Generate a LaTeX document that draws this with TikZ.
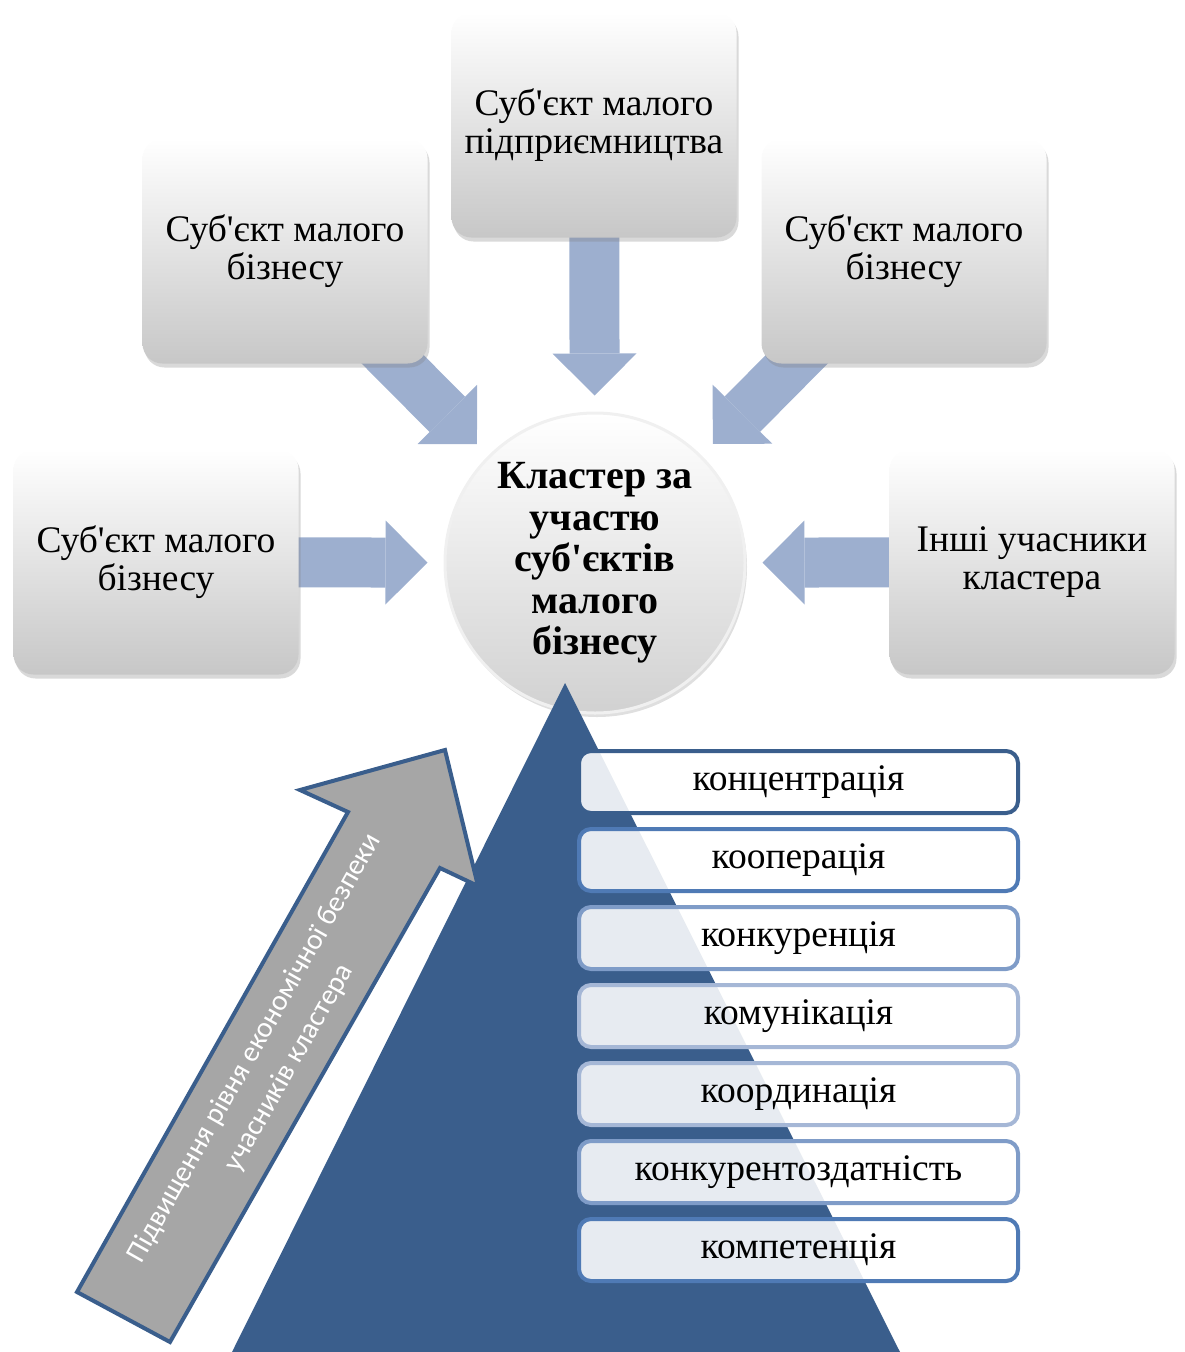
\documentclass[tikz,border=0pt]{standalone}
\usepackage{fontspec}
\setmainfont{Liberation Serif}
\newfontfamily\calibrifont{Carlito}
\usetikzlibrary{arrows.meta,shadows,backgrounds,positioning}

\definecolor{pyramidblue}{RGB}{58,94,140}
\definecolor{feedblue}{RGB}{157,175,207}
\definecolor{arrowgray}{RGB}{166,166,166}
\definecolor{rimA}{RGB}{58,94,140}
\definecolor{rimB}{RGB}{79,122,181}
\definecolor{rimC}{RGB}{127,156,200}
\definecolor{rimD}{RGB}{165,183,214}

\newcommand{\apos}{\textquotesingle{}}

\tikzset{
  member/.style={rectangle, rounded corners=20pt, minimum width=285pt, minimum height=225pt,
    top color=white, bottom color=black!22, align=center,
    drop shadow={opacity=0.3, shadow xshift=2pt, shadow yshift=-4pt},
    font=\fontsize{37.5}{38}\selectfont},
  feed/.style={line width=50pt, draw=feedblue, shorten >=16pt,
    -{Triangle[width=84pt,length=42pt,line width=0pt]}},
  factor/.style={rectangle, rounded corners=12pt, minimum width=439pt, minimum height=62pt,
    line width=4pt, fill=white, fill opacity=0.88, text opacity=1,
    font=\fontsize{37.5}{38}\selectfont},
}

\begin{document}
\begin{tikzpicture}[x=1pt, y=-1pt]
    \useasboundingbox (0,0) rectangle (1184,1352);

    % Participants around the cluster
    \node[member] (sme) at (594,125) {Суб\apos єкт малого\\підприємництва};
    \node[member] (upleft) at (285,251) {Суб\apos єкт малого\\бізнесу};
    \node[member] (upright) at (904,251) {Суб\apos єкт малого\\бізнесу};
    \node[member] (left) at (156,562) {Суб\apos єкт малого\\бізнесу};
    \node[member] (right) at (1032,562) {Інші учасники\\кластера};

    % Cluster hub
    \node[circle, minimum size=300pt, top color=white, bottom color=black!18, draw=black!6, line width=3pt,
      drop shadow={opacity=0.25, shadow xshift=2pt, shadow yshift=-4pt}, align=center,
      font=\bfseries\fontsize{40}{41.5}\selectfont] (hub) at (595,563)
      {Кластер за\\участю\\суб\apos єктів\\малого\\бізнесу};

    % Arrows into the hub
    \begin{scope}[on background layer]
        \draw[feed] (sme.center) -- (hub);
        \draw[feed] (upleft.center) -- (hub);
        \draw[feed] (upright.center) -- (hub);
        \draw[feed] (left.center) -- (hub);
        \draw[feed] (right.center) -- (hub);
    \end{scope}

    % Pyramid
    \fill[pyramidblue] (565,683) -- (900,1352) -- (232,1352) -- cycle;

    % Growth arrow
    \draw[pyramidblue, line width=4pt, fill=arrowgray, line join=miter]
        (77,1292) -- (348,812) -- (300,790) -- (445,750) -- (478,886) -- (440,868) -- (170,1342) -- cycle;
    \node[rotate=60.5, text=white, align=center, font=\calibrifont\fontsize{29}{40}\selectfont] (growth) at (272,1058)
        {Підвищення рівня економічної безпеки\\учасників кластера};

    % Factors
    \foreach \word/\rim [count=\i] in {концентрація/rimA, кооперація/rimB, конкуренція/rimC,
        комунікація/rimD, координація/rimD, конкурентоздатність/rimC, компетенція/rimB}
        \node[factor, draw=\rim] (f\i) at (798.5,704+78*\i) {\word};
\end{tikzpicture}
\end{document}
